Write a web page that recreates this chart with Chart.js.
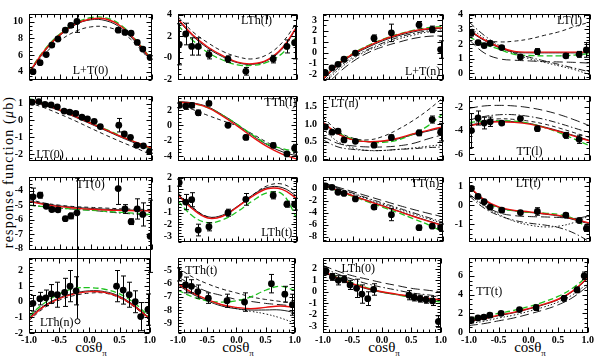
<!DOCTYPE html>
<html>
<head>
<meta charset="utf-8">
<script src="https://cdn.jsdelivr.net/npm/chart.js@4.4.1/dist/chart.umd.min.js"></script>
<style>
  body { margin: 0; background: #fff; }
  #wrap { position: relative; width: 595px; height: 357px; overflow: hidden; background: #fff; }
  canvas { position: absolute; }
  .xt { position: absolute; top: 340px; font: 15px "Liberation Serif", serif; transform: translateX(-50%); white-space: nowrap; line-height: 15px; }
  .xt sub { font-size: 9px; }
  .yt { position: absolute; left: 9px; top: 172px; font: 14px "Liberation Serif", serif; letter-spacing: 1.2px;
        white-space: nowrap; transform: translate(-50%, -50%) rotate(-90deg); }
</style>
</head>
<body>
<div id="wrap">
  <div class="yt">response function (<i>μ</i>b)</div>
  <div class="xt" style="left:91px">cosθ<sub>π</sub></div>
  <div class="xt" style="left:238px">cosθ<sub>π</sub></div>
  <div class="xt" style="left:384px">cosθ<sub>π</sub></div>
  <div class="xt" style="left:530px">cosθ<sub>π</sub></div>
</div>
<script>
const cx = [-1, -0.75, -0.5, -0.25, 0, 0.25, 0.5, 0.75, 1];
const xTicks = [-1, -0.5, 0, 0.5, 1];

// x of the data points per column
const col1X = [-0.935, -0.82, -0.72, -0.63, -0.53, -0.41, -0.32, -0.22, 0.45, 0.56, 0.66, 0.76, 0.85, 0.97];
const col2X = [-0.98, -0.87, -0.77, -0.66, -0.48, -0.16, 0.14, 0.60, 0.83, 0.96];
const col3X = [-0.96, -0.85, -0.75, -0.65, -0.46, -0.15, 0.14, 0.60, 0.82, 0.96];
const col4X = [-0.96, -0.85, -0.75, -0.65, -0.46, -0.15, 0.13, 0.60, 0.82, 0.94];

// L+T(0)
const p1Y = [4.0, 5.07, 6.04, 7.18, 7.92, 8.96, 9.54, 10.0, 8.96, 8.7, 8.6, 7.5, 6.7, 5.7];
const p1E = [0.2, 0.2, 0.2, 0.2, 0.2, 0.2, 0.25, 1.3, 0.25, 0.2, 0.2, 0.2, 0.2, 0.2];
const p1Red = [3.9, 6.5, 8.4, 9.7, 10.3, 10.3, 9.4, 7.6, 5.3];
const p1Green = [4.0, 6.6, 8.5, 9.8, 10.45, 10.45, 9.55, 7.7, 5.4];
const p1Black = [3.8, 6.4, 8.3, 9.6, 10.2, 10.1, 9.2, 7.4, 5.2];
const p1Dash = [3.9, 6.1, 7.7, 8.8, 9.35, 9.35, 8.7, 7.2, 5.0];

// LTh(l)
const p2Y = [1.25, 2.2, 1.05, 1.05, 0.3, -0.12, -1.25, -0.12, 1.05, 1.4];
const p2E = [1.9, 1.0, 0.8, 0.8, 0.4, 0.3, 0.35, 0.35, 0.6, 1.5];
const p2Red = [3.6, 2.1, 1.0, 0.2, -0.4, -0.55, -0.2, 0.9, 2.9];
const p2Green = [3.0, 1.6, 0.5, -0.2, -0.65, -0.7, -0.4, 0.4, 2.0];
const p2Black = [3.5, 2.0, 0.9, 0.1, -0.45, -0.6, -0.25, 0.8, 2.8];
const p2Dash = [3.8, 2.4, 1.4, 0.6, 0.1, -0.1, 0.3, 1.4, 3.3];

// L+T(n)
const p3Y = [-1.83, -1.38, -1.06, -0.6, -0.03, 1.33, 1.82, 2.56, 2.14, 0.29];
const p3E = [0.2, 0.15, 0.15, 0.15, 0.15, 0.3, 0.8, 0.3, 0.3, 0.8];
const p3Red = [-2.4, -1.05, -0.1, 0.6, 1.2, 1.65, 2.0, 2.2, 2.3];
const p3Green = [-2.3, -1.0, -0.05, 0.65, 1.25, 1.7, 2.05, 2.3, 2.4];
const p3Black = [-2.5, -1.15, -0.2, 0.5, 1.1, 1.55, 1.9, 2.15, 2.25];
const p3DashDot = [-2.7, -1.4, -0.4, 0.3, 0.9, 1.4, 1.75, 2.0, 2.1];
const p3Long = [-3.3, -1.9, -0.8, 0.0, 0.55, 0.95, 1.3, 1.5, 1.55];
const p3Dot = [-2.9, -1.6, -0.55, 0.2, 0.75, 1.25, 1.6, 1.9, 2.0];

// LT(l)
const p4Y = [2.75, 2.1, 1.9, 2.05, 1.76, 1.12, 1.49, 1.2, 1.3, 1.6];
const p4E = [0.2, 0.15, 0.15, 0.15, 0.1, 0.1, 0.2, 0.15, 0.2, 0.5];
const p4Red = [2.95, 2.3, 1.8, 1.5, 1.45, 1.45, 1.45, 1.45, 1.45];
const p4Green = [2.5, 2.0, 1.65, 1.3, 1.22, 1.2, 1.2, 1.25, 1.35];
const p4Black = [2.9, 2.25, 1.75, 1.45, 1.4, 1.4, 1.4, 1.4, 1.4];
const p4Dash = [3.0, 2.3, 2.15, 2.2, 2.35, 2.6, 2.85, 3.2, 3.5];
const p4DashDot = [3.5, 2.6, 1.9, 1.4, 1.1, 0.85, 0.6, 0.35, 0.1];
const p4Long = [2.3, 1.4, 1.0, 0.9, 0.85, 0.8, 0.78, 0.75, 0.7];
const p4Dot = [3.2, 2.4, 1.8, 1.35, 1.0, 0.75, 0.5, 0.25, -0.1];

// LT(0)
const p5X = [-0.95, -0.84, -0.74, -0.64, -0.54, -0.43, -0.34, -0.24, -0.14, -0.05, 0.06, 0.16, 0.46, 0.55, 0.65, 0.75, 0.86, 0.96];
const p5Y = [1.08, 1.12, 0.95, 0.92, 0.81, 0.56, 0.5, 0.42, 0.19, 0.1, -0.05, -0.36, -0.28, -0.8, -1.0, -1.47, -1.5, -1.84];
const p5E = [0.08, 0.08, 0.08, 0.08, 0.08, 0.08, 0.08, 0.08, 0.08, 0.08, 0.08, 0.08, 0.4, 0.1, 0.08, 0.08, 0.08, 0.1];
const p5Red = [1.25, 0.95, 0.62, 0.25, -0.15, -0.55, -0.95, -1.3, -1.65];
const p5Green = [1.3, 1.0, 0.65, 0.28, -0.12, -0.52, -0.92, -1.3, -1.7];
const p5Black = [1.2, 0.9, 0.58, 0.2, -0.2, -0.6, -1.0, -1.38, -1.75];
const p5Dash = [1.05, 0.75, 0.38, -0.02, -0.45, -0.87, -1.27, -1.65, -2.05];

// TTh(l)
const p6Y = [2.59, 2.48, 2.59, 1.63, 2.84, 0.02, -1.55, -2.58, -3.68, -2.95];
const p6E = [0.3, 0.4, 0.3, 0.35, 0.2, 0.15, 0.3, 0.3, 0.2, 0.5];
const p6Red = [3.0, 2.85, 2.3, 1.2, -0.1, -1.5, -2.75, -3.7, -4.35];
const p6Green = [3.0, 2.8, 2.3, 1.3, 0.1, -1.2, -2.4, -3.0, -3.4];
const p6Black = [3.1, 2.9, 2.4, 1.35, 0.1, -1.3, -2.5, -3.4, -3.95];
const p6Dash = [2.8, 2.05, 1.3, 0.6, -0.1, -1.1, -2.2, -3.1, -3.8];

// LT(n)
const p7Y = [0.92, 0.77, 0.8, 0.55, 0.51, 0.4, 0.62, 0.75, 1.13, 0.77];
const p7E = [0.05, 0.05, 0.05, 0.05, 0.05, 0.05, 0.07, 0.08, 0.1, 0.25];
const p7Red = [1.05, 0.72, 0.55, 0.5, 0.52, 0.6, 0.72, 0.82, 0.93];
const p7Green = [1.0, 0.75, 0.58, 0.5, 0.48, 0.55, 0.72, 0.95, 1.3];
const p7Black = [1.05, 0.72, 0.55, 0.5, 0.51, 0.58, 0.7, 0.8, 0.9];
const p7Dash = [1.2, 0.8, 0.6, 0.55, 0.65, 0.85, 1.1, 1.4, 1.75];
const p7Long = [0.65, 0.45, 0.38, 0.35, 0.35, 0.38, 0.45, 0.58, 0.7];
const p7Dot = [0.85, 0.5, 0.32, 0.25, 0.25, 0.28, 0.32, 0.37, 0.42];
const p7DashDot = [0.55, 0.35, 0.28, 0.25, 0.25, 0.28, 0.3, 0.33, 0.35];

// TT(l)
const p8X = [-0.96, -0.85, -0.75, -0.65, -0.46, -0.15, 0.13, 0.60, 0.82];
const p8Y = [-4.0, -2.93, -3.36, -3.25, -3.36, -2.98, -3.84, -4.41, -4.75];
const p8E = [1.45, 0.6, 0.5, 0.4, 0.15, 0.15, 0.2, 0.25, 0.35];
const p8Red = [-3.6, -3.35, -3.25, -3.3, -3.45, -3.75, -4.1, -4.5, -4.9];
const p8Green = [-3.3, -3.2, -3.15, -3.2, -3.4, -3.75, -4.2, -4.75, -5.3];
const p8Black = [-3.55, -3.3, -3.2, -3.25, -3.4, -3.7, -4.05, -4.45, -4.85];
const p8Long = [-2.1, -1.9, -1.85, -1.9, -2.05, -2.3, -2.65, -3.1, -3.6];
const p8DashDot = [-3.1, -2.8, -2.65, -2.65, -2.8, -3.05, -3.4, -3.8, -4.2];
const p8Dash = [-3.4, -3.15, -3.0, -3.05, -3.2, -3.45, -3.8, -4.2, -4.6];

// TT(0)  ([down, up] where the bar is lopsided)
const p9Y = [-4.42, -4.31, -5.08, -5.3, -5.32, -5.93, -5.74, -5.53, -3.85, -5.26, -6.14, -5.26, -5.64, -7.15];
const p9E = [0.6, 0.2, 0.15, 0.15, 0.15, 0.15, 0.2, [7.5, 2.4], 1.1, 0.3, 0.2, 0.7, 0.8, 2.5];
const p9Red = [-4.75, -4.95, -5.1, -5.2, -5.28, -5.33, -5.36, -5.38, -5.4];
const p9Green = [-5.0, -5.1, -5.2, -5.28, -5.35, -5.42, -5.5, -5.57, -5.65];
const p9Black = [-4.7, -4.9, -5.05, -5.15, -5.22, -5.28, -5.32, -5.35, -5.38];
const p9Dash = [-4.6, -4.85, -5.0, -5.1, -5.15, -5.2, -5.25, -5.28, -5.3];
const p9DashDot = [-5.0, -5.1, -5.2, -5.28, -5.35, -5.45, -5.55, -5.62, -5.7];

// LTh(t)
const p10Y = [1.57, -0.09, 0.11, -2.48, -2.2, -1.0, 0.14, 0.48, -0.27, -0.27];
const p10E = [0.3, 0.65, 0.6, 0.5, 0.35, 0.3, 0.5, 0.3, 0.25, 0.5];
const p10Red = [0.5, -0.7, -1.45, -1.3, -0.5, 0.4, 1.05, 1.0, 0.2];
const p10Green = [0.0, -1.3, -1.85, -1.6, -0.9, 0.0, 0.7, 0.6, -1.5];
const p10Black = [0.6, -0.6, -1.35, -1.2, -0.45, 0.5, 1.15, 1.15, 0.4];
const p10Dash = [0.7, -0.55, -1.35, -1.3, -0.5, 0.5, 1.3, 1.45, 0.8];

// TT(n)
const p11Y = [0.46, 0.23, -0.59, -0.78, -1.7, -3.06, -4.34, -6.5, -6.26, -6.5];
const p11E = [0.3, 0.2, 0.2, 0.2, 0.2, 0.4, 1.0, 0.4, 0.3, 0.6];
const p11Red = [0.6, -0.3, -1.2, -2.05, -2.9, -3.75, -4.6, -5.4, -6.2];
const p11Green = [0.5, -0.4, -1.3, -2.2, -3.1, -4.0, -5.0, -6.0, -7.2];
const p11Black = [0.65, -0.25, -1.15, -2.0, -2.85, -3.7, -4.55, -5.35, -6.1];
const p11Long = [1.0, 0.25, -0.5, -1.25, -2.0, -2.75, -3.45, -4.1, -4.7];
const p11DashDot = [0.9, 0.1, -0.75, -1.6, -2.4, -3.2, -4.0, -4.8, -5.6];
const p11Dot = [0.8, 0.0, -0.85, -1.75, -2.6, -3.4, -4.2, -5.0, -5.8];

// LT(t)
const p12Y = [0.9, 0.47, 0.19, -0.1, -0.26, -0.39, -0.33, -0.53, -0.81, -1.24];
const p12E = [0.05, 0.05, 0.05, 0.08, 0.1, 0.1, 0.2, 0.1, 0.08, 0.15];
const p12Red = [1.0, 0.3, -0.1, -0.27, -0.35, -0.45, -0.55, -0.75, -0.95];
const p12Green = [0.95, 0.2, -0.15, -0.3, -0.38, -0.42, -0.5, -0.75, -1.35];
const p12Black = [0.95, 0.25, -0.12, -0.3, -0.38, -0.47, -0.58, -0.78, -1.0];
const p12Long = [0.6, 0.0, -0.4, -0.55, -0.6, -0.62, -0.65, -0.7, -0.55];
const p12Dot = [0.6, -0.05, -0.5, -0.85, -1.05, -1.15, -1.1, -0.9, -0.55];
const p12DashDot = [0.5, -0.15, -0.55, -0.8, -0.95, -1.05, -1.2, -1.5, -1.95];

// LTh(n)
const p13Y = [-0.1, 0.2, 0.25, 0.5, 0.45, 0.6, 1.0, 0.7, 1.0, 0.75, 0.45, 0.0, -0.95, -0.5];
const p13E = [0.5, 0.4, 0.5, 0.6, 0.8, 0.9, 1.0, 0.9, 1.0, 0.9, 0.8, 0.7, 0.9, 1.0];
const p13Red = [-1.1, -0.3, 0.2, 0.5, 0.65, 0.6, 0.3, -0.3, -1.1];
const p13Green = [-0.9, -0.1, 0.5, 0.85, 0.9, 0.8, 0.5, -0.1, -1.0];
const p13Black = [-1.0, -0.25, 0.25, 0.55, 0.7, 0.65, 0.35, -0.25, -1.05];
const p13Dash = [-1.2, -0.4, 0.1, 0.4, 0.55, 0.55, 0.25, -0.35, -1.2];

// TTh(t)
const p14Y = [-5.3, -6.1, -6.2, -6.6, -7.1, -7.3, -7.4, -6.0, -6.8, -7.6];
const p14E = [0.5, 0.6, 0.5, 0.5, 0.4, 0.5, 0.7, 0.7, 0.6, 0.8];
const p14Red = [-6.0, -6.7, -7.2, -7.6, -7.8, -7.9, -7.8, -7.7, -7.8];
const p14Green = [-6.5, -7.0, -7.3, -7.4, -7.3, -7.0, -6.5, -6.2, -6.5];
const p14Black = [-6.1, -6.8, -7.3, -7.7, -7.9, -8.0, -8.0, -8.0, -8.2];
const p14Dash = [-4.8, -5.5, -6.0, -6.4, -6.7, -7.0, -7.2, -7.35, -7.5];
const p14Dot = [-6.0, -6.7, -7.2, -7.6, -7.9, -8.1, -8.3, -8.6, -9.0];
const p14Long = [-5.5, -6.1, -6.6, -6.9, -7.2, -7.35, -7.5, -7.6, -7.7];

// LTh(0)
const p15X = [-0.95, -0.84, -0.74, -0.64, -0.54, -0.43, -0.34, -0.24, -0.14, 0.46, 0.55, 0.65, 0.75, 0.86, 0.96];
const p15Y = [1.8, 1.3, 1.0, 1.1, 0.6, 0.3, -0.2, -0.6, 0.2, -0.3, -0.5, -0.6, -0.7, -0.8, -2.6];
const p15E = [0.3, 0.3, 0.4, 0.3, 0.4, 0.8, 0.8, 0.6, 0.5, 0.4, 0.3, 0.3, 0.3, 0.4, 0.5];
const p15Red = [1.8, 1.2, 0.7, 0.3, 0.0, -0.2, -0.4, -0.55, -0.7];
const p15Green = [1.9, 1.3, 0.8, 0.35, 0.0, -0.25, -0.5, -0.7, -0.9];
const p15Black = [1.75, 1.15, 0.65, 0.25, -0.05, -0.25, -0.45, -0.6, -0.75];
const p15Long = [2.3, 1.8, 1.4, 1.1, 0.8, 0.55, 0.3, 0.15, 0.0];
const p15DashDot = [2.1, 1.55, 1.1, 0.7, 0.4, 0.15, -0.1, -0.25, -0.4];

// TT(t)
const p16Y = [1.3, 1.5, 1.6, 1.8, 2.0, 2.4, 2.6, 3.6, 4.5, 6.0];
const p16E = [0.3, 0.2, 0.2, 0.2, 0.2, 0.2, 0.3, 0.3, 0.3, 0.4];
const p16Red = [1.2, 1.45, 1.8, 2.1, 2.5, 2.95, 3.5, 4.4, 5.8];
const p16Green = [1.4, 1.65, 2.0, 2.3, 2.7, 3.2, 3.8, 4.7, 6.0];
const p16Black = [1.15, 1.4, 1.75, 2.05, 2.45, 2.9, 3.45, 4.35, 5.7];
const p16Long = [0.7, 0.9, 1.2, 1.5, 1.9, 2.35, 2.9, 3.7, 4.9];
const p16Dot = [0.9, 1.15, 1.5, 1.8, 2.2, 2.65, 3.2, 4.0, 5.2];

const lineStyles = {
  red:     { color: '#e81010', width: 1.4, dash: [] },
  green:   { color: '#1ec21e', width: 1.3, dash: [6, 3] },
  solid:   { color: '#000', width: 0.9, dash: [] },
  dash:    { color: '#000', width: 0.9, dash: [4, 3] },
  long:    { color: '#000', width: 0.9, dash: [9, 4] },
  dot:     { color: '#000', width: 0.9, dash: [1.5, 2] },
  dashdot: { color: '#000', width: 0.9, dash: [7, 2.5, 1.5, 2.5] }
};

// frame positions
const colL = [29, 178, 323, 469];
const colW = [123, 119, 120, 121];
const rowT = [6, 88, 169, 250];
const rowH = [82, 81, 81, 83];

const panels = [
  { label: 'L+T(0)', lx: 0.5, ly: 0.86, x: col1X, y: p1Y, e: p1E, min: 3, max: 10.9, step: 2, minor: 0.5,
    curves: [['red', p1Red], ['green', p1Green], ['solid', p1Black], ['dash', p1Dash]] },
  { label: 'LTh(l)', lx: 0.66, ly: 0.11, x: col2X, y: p2Y, e: p2E, min: -2.05, max: 4.05, step: 2, minor: 0.5, negZero: true,
    curves: [['red', p2Red], ['green', p2Green], ['solid', p2Black], ['dash', p2Dash]] },
  { label: 'L+T(n)', lx: 0.83, ly: 0.88, x: col3X, y: p3Y, e: p3E, min: -2.5, max: 3.55, step: 1, minor: 0.5,
    curves: [['red', p3Red], ['green', p3Green], ['solid', p3Black], ['dashdot', p3DashDot], ['long', p3Long], ['dot', p3Dot]] },
  { label: 'LT(l)', lx: 0.83, ly: 0.11, x: col4X, y: p4Y, e: p4E, min: -0.45, max: 4.05, step: 1, minor: 0.25,
    curves: [['red', p4Red], ['green', p4Green], ['solid', p4Black], ['dash', p4Dash], ['dashdot', p4DashDot], ['long', p4Long], ['dot', p4Dot]] },
  { label: 'LT(0)', lx: 0.17, ly: 0.9, x: p5X, y: p5Y, e: p5E, min: -2.4, max: 1.45, step: 1, minor: 0.25,
    curves: [['red', p5Red], ['green', p5Green], ['solid', p5Black], ['dash', p5Dash]] },
  { label: 'TTh(l)', lx: 0.86, ly: 0.11, x: col2X, y: p6Y, e: p6E, min: -4.6, max: 3.8, step: 2, minor: 0.5,
    curves: [['red', p6Red], ['green', p6Green], ['solid', p6Black], ['dash', p6Dash]] },
  { label: 'LT(n)', lx: 0.18, ly: 0.12, x: col3X, y: p7Y, e: p7E, min: -0.05, max: 1.8, step: 0.5, minor: 0.1, dec: 1,
    curves: [['red', p7Red], ['green', p7Green], ['solid', p7Black], ['dash', p7Dash], ['long', p7Long], ['dot', p7Dot], ['dashdot', p7DashDot]] },
  { label: 'TT(l)', lx: 0.5, ly: 0.86, x: p8X, y: p8Y, e: p8E, min: -6.6, max: -1.05, step: 2, minor: 0.5,
    curves: [['red', p8Red], ['green', p8Green], ['solid', p8Black], ['long', p8Long], ['dashdot', p8DashDot], ['dash', p8Dash]] },
  { label: 'TT(0)', lx: 0.5, ly: 0.11, x: col1X, y: p9Y, e: p9E, min: -8.1, max: -3.05, step: 1, minor: 0.25, below: 83,
    curves: [['red', p9Red], ['green', p9Green], ['solid', p9Black], ['dash', p9Dash], ['dashdot', p9DashDot]] },
  { label: 'LTh(t)', lx: 0.83, ly: 0.86, x: col2X, y: p10Y, e: p10E, min: -3.5, max: 2.05, step: 1, minor: 0.25,
    curves: [['red', p10Red], ['green', p10Green], ['solid', p10Black], ['dash', p10Dash]] },
  { label: 'TT(n)', lx: 0.85, ly: 0.11, x: col3X, y: p11Y, e: p11E, min: -8.9, max: 1.96, step: 2, minor: 0.5,
    curves: [['red', p11Red], ['green', p11Green], ['solid', p11Black], ['long', p11Long], ['dashdot', p11DashDot], ['dot', p11Dot]] },
  { label: 'LT(t)', lx: 0.49, ly: 0.11, x: col4X, y: p12Y, e: p12E, min: -1.95, max: 1.5, step: 1, minor: 0.25,
    curves: [['red', p12Red], ['green', p12Green], ['solid', p12Black], ['long', p12Long], ['dot', p12Dot], ['dashdot', p12DashDot]] },
  { label: 'LTh(n)', lx: 0.23, ly: 0.87, x: col1X, y: p13Y, e: p13E, min: -2, max: 2.8, step: 1, minor: 0.25,
    curves: [['red', p13Red], ['green', p13Green], ['solid', p13Black], ['dash', p13Dash]] },
  { label: 'TTh(t)', lx: 0.2, ly: 0.17, x: col2X, y: p14Y, e: p14E, min: -9.75, max: -4.05, step: 1, minor: 0.25,
    curves: [['red', p14Red], ['green', p14Green], ['solid', p14Black], ['dash', p14Dash], ['dot', p14Dot], ['long', p14Long]] },
  { label: 'LTh(0)', lx: 0.3, ly: 0.14, x: p15X, y: p15Y, e: p15E, min: -3.6, max: 2.95, step: 1, minor: 0.25,
    curves: [['red', p15Red], ['green', p15Green], ['solid', p15Black], ['long', p15Long], ['dashdot', p15DashDot]] },
  { label: 'TT(t)', lx: 0.17, ly: 0.45, x: col4X, y: p16Y, e: p16E, min: -0.1, max: 7.9, step: 2, minor: 0.5,
    curves: [['red', p16Red], ['green', p16Green], ['solid', p16Black], ['long', p16Long], ['dot', p16Dot]] }
];

// frame, inward ticks, error bars and panel label
const panelDeco = {
  id: 'panelDeco',
  beforeDatasetDraw(chart, args, opts) {
    if (args.index !== 0) return;
    const { ctx, chartArea: a, scales: { y } } = chart;
    const meta = chart.getDatasetMeta(0);
    ctx.save();
    ctx.beginPath();
    ctx.rect(a.left - 4, a.top, a.right - a.left + 8, (opts.below ? chart.height : a.bottom) - a.top);
    ctx.clip();
    ctx.strokeStyle = '#000';
    ctx.lineWidth = 1;
    opts.err.forEach((e, i) => {
      const v = opts.vals[i];
      const dn = Array.isArray(e) ? e[0] : e;
      const up = Array.isArray(e) ? e[1] : e;
      const px = Math.round(meta.data[i].x) + 0.5;
      const y0 = y.getPixelForValue(v - dn), y1 = y.getPixelForValue(v + up);
      ctx.beginPath();
      ctx.moveTo(px, y0); ctx.lineTo(px, y1);
      ctx.moveTo(px - 2.5, y1); ctx.lineTo(px + 2.5, y1);
      if (!Array.isArray(e)) { ctx.moveTo(px - 2.5, y0); ctx.lineTo(px + 2.5, y0); }
      ctx.stroke();
      if (Array.isArray(e)) {
        ctx.beginPath();
        ctx.arc(px, y0, 2.5, 0, Math.PI * 2);
        ctx.fillStyle = '#fff'; ctx.fill(); ctx.stroke();
      }
    });
    ctx.restore();
  },
  afterDraw(chart, args, opts) {
    const { ctx, chartArea: a, scales: { x, y } } = chart;
    ctx.save();
    ctx.strokeStyle = '#000';
    ctx.lineWidth = 1;
    const L = Math.round(a.left) + 0.5, R = Math.round(a.right) - 0.5;
    const T = Math.round(a.top) + 0.5, B = Math.round(a.bottom) - 0.5;
    ctx.strokeRect(L, T, R - L, B - T);
    ctx.beginPath();
    for (let k = -10; k <= 10; k++) {
      const v = k / 10, len = k % 5 === 0 ? 5 : 3;
      const px = Math.round(x.getPixelForValue(v)) + 0.5;
      ctx.moveTo(px, B); ctx.lineTo(px, B - len);
      ctx.moveTo(px, T); ctx.lineTo(px, T + len);
    }
    const n0 = Math.ceil(y.min / opts.minor - 1e-6), n1 = Math.floor(y.max / opts.minor + 1e-6);
    for (let k = n0; k <= n1; k++) {
      const v = k * opts.minor;
      const major = Math.abs(v / opts.step - Math.round(v / opts.step)) < 1e-6;
      const len = major ? 5 : 3;
      const py = Math.round(y.getPixelForValue(v)) + 0.5;
      ctx.moveTo(L, py); ctx.lineTo(L + len, py);
      ctx.moveTo(R, py); ctx.lineTo(R - len, py);
    }
    ctx.stroke();
    ctx.fillStyle = '#000';
    ctx.font = '12px "Liberation Serif", serif';
    ctx.textAlign = 'center';
    ctx.textBaseline = 'middle';
    ctx.fillText(opts.label, a.left + opts.lx * (a.right - a.left), a.top + opts.ly * (a.bottom - a.top));
    ctx.restore();
  }
};

const wrap = document.getElementById('wrap');
const tickFont = { family: '"Liberation Serif", serif', size: 10, weight: 'bold' };

panels.forEach((p, idx) => {
  const c = idx % 4, r = Math.floor(idx / 4);
  const bottom = r === 3;
  const below = p.below || 0;
  const canvas = document.createElement('canvas');
  const left = colL[c] - 28, top = rowT[r] - 4;
  canvas.width = colW[c] + 28 + 5;
  canvas.height = rowH[r] + 8 + (bottom ? 9 : 0) + below;
  canvas.style.left = left + 'px';
  canvas.style.top = top + 'px';
  wrap.appendChild(canvas);

  const datasets = [{
    data: p.x.map((xv, i) => ({ x: xv, y: p.y[i] })),
    pointRadius: 3.4, pointBackgroundColor: '#000', pointBorderWidth: 0, showLine: false
  }];
  p.curves.forEach(([style, vals]) => {
    const s = lineStyles[style];
    datasets.push({
      data: cx.map((xv, i) => ({ x: xv, y: vals[i] })),
      showLine: true, pointRadius: 0, tension: 0.4,
      borderColor: s.color, borderWidth: s.width, borderDash: s.dash
    });
  });

  const step = p.step;
  new Chart(canvas, {
    type: 'scatter',
    data: { datasets },
    plugins: [panelDeco],
    options: {
      animation: false, responsive: false, events: [],
      layout: { padding: { top: 4, right: 5, bottom: (bottom ? 0 : 4) + below, left: 0 } },
      plugins: {
        legend: { display: false }, tooltip: { enabled: false },
        panelDeco: { label: p.label, lx: p.lx, ly: p.ly, err: p.e, vals: p.y, step: step, minor: p.minor, below: below }
      },
      scales: {
        x: {
          type: 'linear', min: -1, max: 1,
          grid: { display: false, drawTicks: false }, border: { display: false },
          afterBuildTicks: s => { s.ticks = xTicks.map(v => ({ value: v })); },
          afterFit: s => { s.height = bottom ? 13 : 0; },
          ticks: { display: bottom, autoSkip: false, maxRotation: 0, padding: 1, color: '#000', font: tickFont,
                   callback: v => v.toFixed(1) }
        },
        y: {
          type: 'linear', min: p.min, max: p.max,
          grid: { display: false, drawTicks: false }, border: { display: false },
          afterBuildTicks: s => {
            const t = [];
            for (let k = Math.ceil(p.min / step - 1e-6); k * step <= p.max + 1e-9; k++) t.push({ value: k * step });
            s.ticks = t;
          },
          afterFit: s => { s.width = 28; },
          ticks: { autoSkip: false, padding: 6, color: '#000', font: tickFont,
                   callback: v => (p.negZero && Math.abs(v) < 1e-9) ? '-0' : v.toFixed(p.dec || 0) }
        }
      }
    }
  });
});
</script>
</body>
</html>
